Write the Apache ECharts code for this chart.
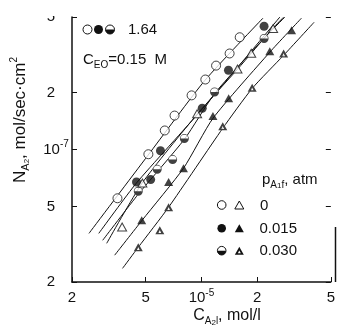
<!DOCTYPE html>
<html><head><meta charset="utf-8">
<script src="https://cdn.jsdelivr.net/npm/echarts@6/dist/echarts.min.js"></script>
<style>html,body{margin:0;padding:0;background:#fff}#c{width:338px;height:326px}</style>
</head><body><div id="c"></div>
<script>
// ---- axis ticks ----
const xTickValues = [2e-6, 5e-6, 1e-5, 2e-5, 5e-5];
const xTickLabels = ['2', '5', '10^-5', '2', '5'];
const yTickValues = [2e-8, 5e-8, 1e-7, 2e-7, 5e-7];
const yTickLabels = ['2', '5', '10^-7', '2', '5'];

// ---- data points [C_A2l (mol/l), N_A2 (mol/sec·cm²)] ----
const openCircles = [[3.52e-6,5.53e-8],[5.17e-6,9.44e-8],[6.34e-6,1.26e-7],[7.16e-6,1.51e-7],[8.85e-6,1.93e-7],[1.05e-5,2.34e-7],[1.20e-5,2.77e-7],[1.42e-5,3.21e-7],[1.61e-5,3.91e-7]];
const filledCircles = [[4.46e-6,6.74e-8],[5.32e-6,6.94e-8],[6.01e-6,9.85e-8],[1.01e-5,1.65e-7],[1.40e-5,2.62e-7],[2.18e-5,4.47e-7]];
const halfCircles = [[4.56e-6,6.02e-8],[5.77e-6,7.86e-8],[6.99e-6,8.85e-8],[8.09e-6,1.142e-7],[1.178e-5,2.01e-7],[2.18e-5,3.85e-7]];
const openTriangles = [[3.73e-6,3.90e-8],[4.80e-6,6.66e-8],[9.48e-6,1.544e-7],[1.566e-5,2.66e-7],[1.858e-5,3.22e-7],[2.44e-5,4.35e-7]];
const filledTriangles = [[4.76e-6,4.23e-8],[6.65e-6,6.74e-8],[8.00e-6,7.96e-8],[1.154e-5,1.50e-7],[1.403e-5,1.864e-7],[2.34e-5,3.30e-7],[3.07e-5,4.26e-7]];
const halfTriangles = [[4.56e-6,3.05e-8],[5.96e-6,3.75e-8],[6.65e-6,4.96e-8],[1.304e-5,1.326e-7],[1.88e-5,2.12e-7],[2.78e-5,3.21e-7]];

// ---- drawn curves ----
const curveOpenCircle = [[2.47e-6,3.61e-8],[5.15e-6,9.33e-8],[1.046e-5,2.32e-7],[2.15e-5,4.93e-7]];
const curveFilledCircle = [[2.79e-6,3.61e-8],[4.45e-6,6.64e-8],[1.008e-5,1.63e-7],[2.65e-5,4.99e-7]];
const curveHalfCircle = [[2.93e-6,3.32e-8],[4.56e-6,5.81e-8],[8.09e-6,1.132e-7],[1.182e-5,1.98e-7],[2.18e-5,3.86e-7],[2.82e-5,4.99e-7]];
const curveOpenTriangle = [[3.08e-6,3.20e-8],[4.78e-6,6.64e-8],[9.48e-6,1.535e-7],[1.566e-5,2.65e-7],[2.43e-5,4.36e-7],[2.78e-5,4.99e-7]];
const curveFilledTriangle = [[3.40e-6,2.77e-8],[4.78e-6,4.23e-8],[8.0e-6,7.96e-8],[1.154e-5,1.46e-7],[2.34e-5,3.26e-7],[3.47e-5,4.93e-7]];
const curveHalfTriangle = [[3.75e-6,2.36e-8],[4.56e-6,3.05e-8],[6.65e-6,4.96e-8],[1.304e-5,1.295e-7],[1.88e-5,2.10e-7],[2.78e-5,3.14e-7],[4.06e-5,4.69e-7]];

// ---- legend texts ----
const legendParam = '1.64';
const legendPressures = ['0', '0.015', '0.030'];

const FONT = 'Liberation Sans';
const halfCirclePath = 'path://M0,10 A10,10 0 1,1 20,10 A10,10 0 1,1 0,10 Z M1.6,10 L18.4,10 A8.4,8.4 0 0,0 1.6,10 Z';
const halfTrianglePath = 'path://M10,0 L20,18 L0,18 Z M10,8.5 L7,15 L13,15 Z';

function fmt(values, labels) {
  return function (v) {
    for (let i = 0; i < values.length; i++) {
      if (Math.abs(Math.log10(v) - Math.log10(values[i])) < 1e-4) {
        const l = labels[i];
        if (l.indexOf('^') >= 0) {
          const p = l.split('^');
          return '{b|' + p[0] + '}{s|' + p[1] + '}';
        }
        return '{b|' + l + '}';
      }
    }
    return '';
  };
}
const tickRich = {
  b: { fontSize: 15, fontFamily: FONT, color: '#111', lineHeight: 20 },
  s: { fontSize: 10, fontFamily: FONT, color: '#111', verticalAlign: 'top', lineHeight: 12 }
};
function titleRich(size) {
  return {
    n: { fontSize: size, fontFamily: FONT, lineHeight: size + 5, fill: '#111' },
    s: { fontSize: size - 6, fontFamily: FONT, verticalAlign: 'bottom', lineHeight: size - 4, fill: '#111' },
    ss: { fontSize: 8, fontFamily: FONT, verticalAlign: 'bottom', lineHeight: 10, fill: '#111' },
    p: { fontSize: 10, fontFamily: FONT, verticalAlign: 'top', lineHeight: 13, fill: '#111' }
  };
}
const legRich = {
  n: { fontSize: 15, fontFamily: FONT, lineHeight: 20, fill: '#111' },
  s: { fontSize: 10, fontFamily: FONT, verticalAlign: 'bottom', lineHeight: 12, fill: '#111' },
  ss: { fontSize: 8, fontFamily: FONT, verticalAlign: 'bottom', lineHeight: 10, fill: '#111' }
};

const lineSeries = [curveOpenCircle, curveFilledCircle, curveHalfCircle, curveOpenTriangle, curveFilledTriangle, curveHalfTriangle]
  .map(d => ({ type: 'line', data: d, symbol: 'none', smooth: 0.2, lineStyle: { color: '#111', width: 1 }, z: 2, silent: true }));

const chart = echarts.init(document.getElementById('c'), null, { renderer: 'canvas' });
chart.setOption({
  animation: false,
  backgroundColor: '#fff',
  grid: { left: 72, right: 3, top: 17, bottom: 44, containLabel: false },
  xAxis: {
    type: 'log', logBase: 10, min: 2e-6, max: 5e-5,
    axisLine: { lineStyle: { color: '#111', width: 1.5 } },
    axisTick: { inside: true, length: 5, customValues: xTickValues, lineStyle: { color: '#111' } },
    axisLabel: { customValues: xTickValues, formatter: fmt(xTickValues, xTickLabels), rich: tickRich, margin: 6 },
    splitLine: { show: false }, minorTick: { show: false }
  },
  yAxis: [{
    type: 'log', logBase: 10, min: 2e-8, max: 5e-7,
    axisLine: { lineStyle: { color: '#111', width: 1.5 } },
    axisTick: { inside: true, length: 5, customValues: yTickValues, lineStyle: { color: '#111' } },
    axisLabel: {
      customValues: yTickValues, align: 'center', margin: 21,
      formatter: function (v) {
        const s = fmt(yTickValues, yTickLabels)(v);
        return s.indexOf('{s|') >= 0 ? '{p|}' + s : s;
      },
      rich: Object.assign({ p: { width: 10 } }, tickRich)
    },
    splitLine: { show: false }
  }, {
    type: 'log', logBase: 10, min: 2e-8, max: 5e-7, position: 'right',
    axisLine: { show: false },
    axisTick: { inside: true, length: 5, customValues: yTickValues, lineStyle: { color: '#111' } },
    axisLabel: { show: false }, splitLine: { show: false }
  }],
  series: lineSeries.concat([
    { type: 'scatter', data: openCircles, symbol: 'circle', symbolSize: 9, itemStyle: { color: '#fff', borderColor: '#111', borderWidth: 1 }, z: 5 },
    { type: 'scatter', data: filledCircles, symbol: 'circle', symbolSize: 9, itemStyle: { color: '#111' }, z: 5 },
    { type: 'scatter', data: halfCircles, symbol: 'circle', symbolSize: 9, itemStyle: { color: '#fff' }, z: 4 },
    { type: 'scatter', data: halfCircles, symbol: halfCirclePath, symbolSize: 9, itemStyle: { color: '#111' }, z: 5 },
    { type: 'scatter', data: openTriangles, symbol: 'triangle', symbolSize: [9, 8], itemStyle: { color: '#fff', borderColor: '#111', borderWidth: 1 }, z: 5 },
    { type: 'scatter', data: filledTriangles, symbol: 'triangle', symbolSize: [9, 8], itemStyle: { color: '#111' }, z: 5 },
    { type: 'scatter', data: halfTriangles, symbol: 'triangle', symbolSize: [9, 8], itemStyle: { color: '#fff' }, z: 4 },
    { type: 'scatter', data: halfTriangles, symbol: halfTrianglePath, symbolSize: [9, 8], itemStyle: { color: '#111' }, z: 5 }
  ]),
  graphic: [
    // crop of top tick label (original figure is cut here)
    { type: 'rect', zlevel: 1, shape: { x: 30, y: 0, width: 36, height: 16 }, style: { fill: '#fff' }, z: 100 },
    // lower part of right frame
    { type: 'line', shape: { x1: 335.5, y1: 227, x2: 335.5, y2: 282 }, style: { stroke: '#111', lineWidth: 1.5 }, z: 50 },
    // axis titles
    { type: 'text', x: 20, y: 120, rotation: Math.PI / 2, z: 50,
      style: { text: '{n|N}{s|A}{ss|2}{n|, mol/sec·cm}{p|2}', align: 'center', verticalAlign: 'middle', rich: titleRich(17) } },
    { type: 'text', x: 227, y: 316, z: 50,
      style: { text: '{n|C}{s|A}{ss|2}{s|l}{n|, mol/l}', align: 'center', verticalAlign: 'middle', rich: titleRich(16) } },
    // top-left legend
    { type: 'circle', shape: { cx: 87.5, cy: 29.5, r: 4.5 }, style: { fill: '#fff', stroke: '#111', lineWidth: 1 }, z: 50 },
    { type: 'circle', shape: { cx: 98.5, cy: 29.5, r: 4.5 }, style: { fill: '#111' }, z: 50 },
    { type: 'circle', shape: { cx: 110, cy: 29.5, r: 4.5 }, style: { fill: '#fff', stroke: '#111', lineWidth: 1 }, z: 50 },
    { type: 'sector', shape: { cx: 110, cy: 29.5, r: 4.5, r0: 0, startAngle: 0, endAngle: Math.PI }, style: { fill: '#111' }, z: 51 },
    { type: 'text', x: 128, y: 29.5, z: 50, style: { text: legendParam, font: '15px ' + FONT, fill: '#111', verticalAlign: 'middle' } },
    { type: 'text', x: 83, y: 60, z: 50, style: { text: '{n|C}{s|EO}{n|=0.15  M}', verticalAlign: 'middle', rich: legRich } },
    // bottom-right legend
    { type: 'text', x: 262, y: 180, z: 50, style: { text: '{n|p}{s|A}{ss|1}{s|f}{n|, atm}', verticalAlign: 'middle', rich: legRich } },
    { type: 'circle', shape: { cx: 221.7, cy: 205, r: 4.3 }, style: { fill: '#fff', stroke: '#111', lineWidth: 1 }, z: 50 },
    { type: 'polygon', shape: { points: [[239.3, 201], [243.8, 209], [234.8, 209]] }, style: { fill: '#fff', stroke: '#111', lineWidth: 1 }, z: 50 },
    { type: 'text', x: 260, y: 205.5, z: 50, style: { text: legendPressures[0], font: '15px ' + FONT, fill: '#111', verticalAlign: 'middle' } },
    { type: 'circle', shape: { cx: 221.7, cy: 228.3, r: 4.3 }, style: { fill: '#111' }, z: 50 },
    { type: 'polygon', shape: { points: [[239.3, 224.3], [243.8, 232.3], [234.8, 232.3]] }, style: { fill: '#111' }, z: 50 },
    { type: 'text', x: 259.5, y: 228.5, z: 50, style: { text: legendPressures[1], font: '15px ' + FONT, fill: '#111', verticalAlign: 'middle' } },
    { type: 'circle', shape: { cx: 221.7, cy: 250.7, r: 4.3 }, style: { fill: '#fff', stroke: '#111', lineWidth: 1 }, z: 50 },
    { type: 'sector', shape: { cx: 221.7, cy: 250.7, r: 4.3, r0: 0, startAngle: 0, endAngle: Math.PI }, style: { fill: '#111' }, z: 51 },
    { type: 'polygon', shape: { points: [[239.3, 246.7], [243.8, 254.7], [234.8, 254.7]] }, style: { fill: '#111' }, z: 50 },
    { type: 'polygon', shape: { points: [[239.3, 250.5], [237.8, 253.3], [240.8, 253.3]] }, style: { fill: '#fff' }, z: 51 },
    { type: 'text', x: 259.5, y: 251, z: 50, style: { text: legendPressures[2], font: '15px ' + FONT, fill: '#111', verticalAlign: 'middle' } }
  ]
});
</script>
</body></html>
